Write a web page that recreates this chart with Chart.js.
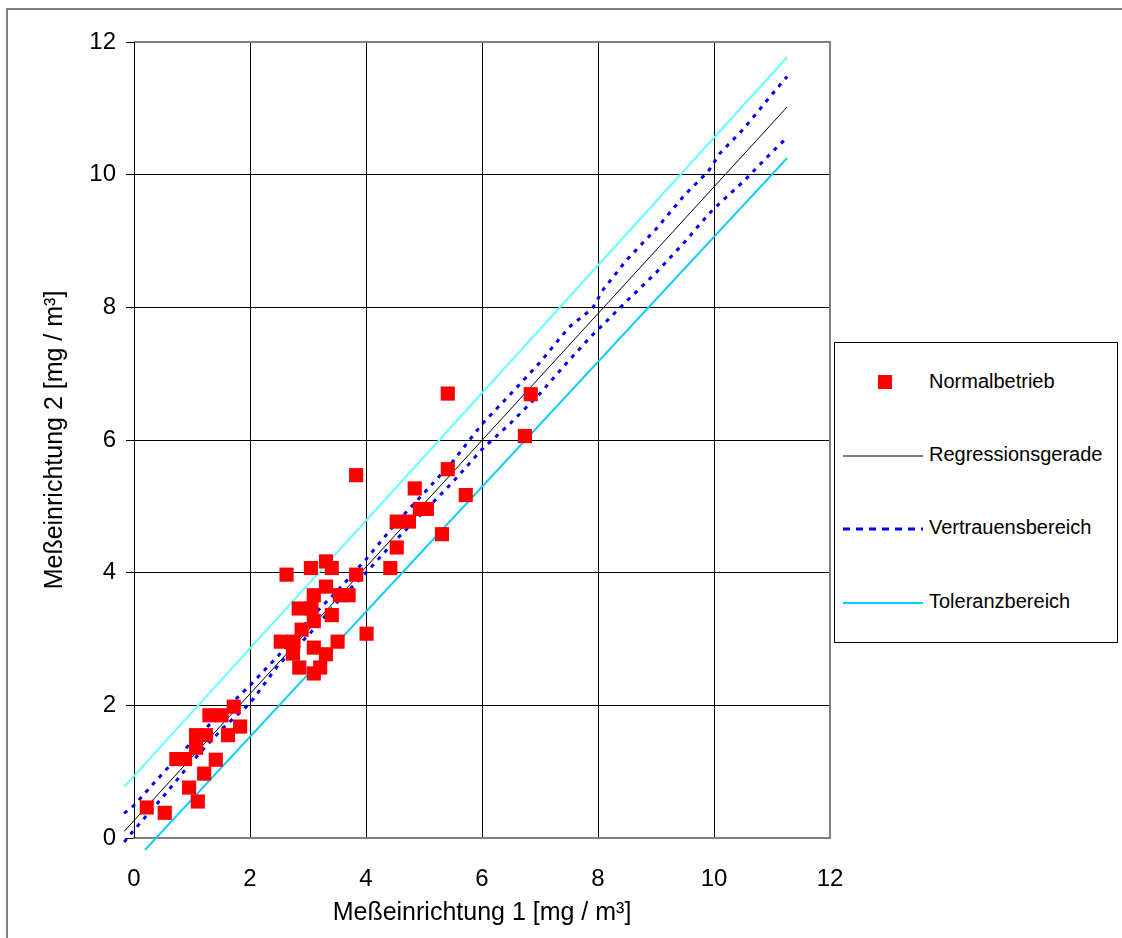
<!DOCTYPE html>
<html lang="de">
<head>
<meta charset="UTF-8">
<title>Meßeinrichtung 1 / Meßeinrichtung 2</title>
<script src="https://cdn.jsdelivr.net/npm/chart.js"></script>
<style>
    body {
        margin: 0;
        background: #fff;
        font-family: "Liberation Sans", Arial, sans-serif;
        overflow: hidden;
    }
    .frame {
        position: absolute;
        left: 6px;
        top: 8px;
        width: 1140px;
        height: 960px;
        border-left: 2px solid #808080;
        border-top: 2px solid #808080;
    }
    .chart-box {
        position: absolute;
        left: 0;
        top: 0;
        width: 1122px;
        height: 938px;
    }
    .legend {
        position: absolute;
        left: 834px;
        top: 342px;
        width: 282px;
        height: 299px;
        border: 1px solid #000;
        background: #fff;
    }
    .legend-item {
        position: absolute;
        left: 0;
        width: 100%;
        height: 30px;
    }
    .legend-item svg {
        position: absolute;
        left: 8px;
        top: 0;
    }
    .legend-text {
        position: absolute;
        left: 94px;
        top: 3px;
        font-size: 20px;
        color: #000;
        white-space: nowrap;
    }
</style>
</head>
<body>
<div class="frame"></div>
<div class="chart-box"><canvas id="vergleich"></canvas></div>
<div class="legend" id="legende"></div>

<script>
    // Messwerte Normalbetrieb (Meßeinrichtung 1 / 2)
    const messX = [0.22, 0.53, 0.73, 0.88, 0.95, 1.10, 1.21, 1.41, 1.07, 1.07, 1.24, 1.62, 1.83, 1.30, 1.51, 1.72,
                   2.63, 3.05, 3.31, 3.41, 3.83, 3.31, 3.10, 3.55, 3.70, 2.84, 3.06, 3.41, 3.10, 2.89, 2.53, 2.75,
                   3.51, 3.10, 2.74, 3.31, 2.85, 3.21, 3.10, 4.01, 3.83, 4.42, 4.53, 5.31, 4.53, 4.74, 4.93, 5.05,
                   4.84, 5.72, 5.41, 5.41, 6.84, 6.74];
    const messY = [0.46, 0.38, 1.19, 1.19, 0.76, 0.55, 0.97, 1.18, 1.36, 1.55, 1.55, 1.55, 1.68, 1.85, 1.85, 1.98,
                   3.97, 4.07, 4.17, 4.07, 3.97, 3.79, 3.66, 3.66, 3.66, 3.46, 3.46, 3.36, 3.27, 3.14, 2.96, 2.96,
                   2.96, 2.87, 2.78, 2.77, 2.57, 2.57, 2.48, 3.08, 5.47, 4.07, 4.38, 4.58, 4.77, 4.77, 4.96, 4.96,
                   5.27, 5.17, 5.56, 6.70, 6.69, 6.06];

    // Regressionsgerade
    const regX = [-0.17, 11.26];
    const regY = [0.10, 11.02];

    // Vertrauensbereich (oben / unten)
    const vbX = [-0.17, 0, 0.5, 1, 1.5, 2, 2.5, 3, 3.5, 4, 4.5, 5, 5.5, 6, 6.5, 7, 7.5, 7.9, 8.1, 8.5, 9, 9.5, 9.9, 10.1, 10.5, 11, 11.26];
    const vbOben = [0.37, 0.49, 0.98, 1.45, 1.88, 2.30, 2.76, 3.28, 3.72, 4.20, 4.73, 5.20, 5.68, 6.24, 6.70, 7.17, 7.70, 7.98, 8.28, 8.72, 9.18, 9.70, 10.05, 10.32, 10.68, 11.21, 11.48];
    const vbUnten = [-0.06, 0.12, 0.62, 1.15, 1.63, 2.03, 2.62, 3.05, 3.55, 4.00, 4.48, 4.92, 5.37, 5.86, 6.26, 6.70, 7.20, 7.58, 7.75, 8.10, 8.52, 8.99, 9.40, 9.57, 9.89, 10.34, 10.56];

    // Toleranzbereich
    const tolObenX = [-0.17, 11.26];
    const tolObenY = [0.77, 11.77];
    const tolUntenX = [0.19, 11.26];
    const tolUntenY = [-0.18, 10.25];

    const achsenTicks = [0, 2, 4, 6, 8, 10, 12];

    const punkte = (xs, ys) => xs.map((x, i) => ({ x: x, y: ys[i] }));
    const schrift = '"Liberation Sans", Arial, sans-serif';

    // grauer Rahmen um die Zeichenfläche
    const rahmen = {
        id: 'rahmen',
        beforeDatasetsDraw(chart) {
            const { ctx, chartArea: a } = chart;
            ctx.save();
            ctx.strokeStyle = '#808080';
            ctx.lineWidth = 2;
            ctx.beginPath();
            ctx.moveTo(a.left, a.top);
            ctx.lineTo(a.right, a.top);
            ctx.lineTo(a.right, a.bottom);
            ctx.lineTo(a.left, a.bottom);
            ctx.stroke();
            ctx.strokeStyle = '#000';
            ctx.lineWidth = 1;
            ctx.beginPath();
            ctx.moveTo(a.left + 0.5, a.top);
            ctx.lineTo(a.left + 0.5, a.bottom);
            ctx.stroke();
            ctx.restore();
        }
    };

    const datasets = [
        {
            label: 'Normalbetrieb',
            data: punkte(messX, messY),
            pointStyle: 'rect',
            pointRadius: 10,
            pointHoverRadius: 10,
            backgroundColor: '#ff0000',
            borderWidth: 0,
            showLine: false
        },
        {
            label: 'Regressionsgerade',
            data: punkte(regX, regY),
            showLine: true,
            borderColor: '#000',
            borderWidth: 1,
            pointRadius: 0,
            clip: false
        },
        {
            label: 'Vertrauensbereich',
            data: punkte(vbX, vbOben),
            showLine: true,
            borderColor: '#0000ff',
            borderWidth: 3,
            borderDash: [4, 6],
            pointRadius: 0,
            clip: false
        },
        {
            label: 'Vertrauensbereich unten',
            data: punkte(vbX, vbUnten),
            showLine: true,
            borderColor: '#0000ff',
            borderWidth: 3,
            borderDash: [4, 6],
            pointRadius: 0,
            clip: false,
            inLegend: false
        },
        {
            label: 'Toleranzbereich',
            data: punkte(tolUntenX, tolUntenY),
            showLine: true,
            borderColor: '#00ccff',
            borderWidth: 2,
            pointRadius: 0,
            clip: false
        },
        {
            label: 'Toleranzbereich oben',
            data: punkte(tolObenX, tolObenY),
            showLine: true,
            borderColor: '#66ffff',
            borderWidth: 2,
            pointRadius: 0,
            clip: false,
            inLegend: false
        }
    ];

    new Chart(document.getElementById('vergleich'), {
        type: 'scatter',
        data: { datasets: datasets },
        plugins: [rahmen],
        options: {
            responsive: true,
            maintainAspectRatio: false,
            animation: false,
            layout: { padding: { left: 0, top: 42, right: 292, bottom: 0 } },
            plugins: {
                legend: { display: false },
                tooltip: { enabled: false }
            },
            scales: {
                x: {
                    type: 'linear',
                    min: 0,
                    max: 12,
                    afterFit: (s) => { s.height = 100; },
                    afterBuildTicks: (s) => { s.ticks = achsenTicks.map(v => ({ value: v })); },
                    ticks: {
                        color: '#000',
                        font: { family: schrift, size: 24 },
                        padding: 27,
                        maxRotation: 0
                    },
                    grid: { color: '#000', lineWidth: 1, drawTicks: false },
                    border: { color: '#808080', width: 2 },
                    title: {
                        display: true,
                        text: 'Meßeinrichtung 1 [mg / m³]',
                        color: '#000',
                        font: { family: schrift, size: 25 },
                        padding: { top: 0, bottom: 10 }
                    }
                },
                y: {
                    type: 'linear',
                    min: 0,
                    max: 12,
                    afterFit: (s) => { s.width = 134; },
                    afterBuildTicks: (s) => { s.ticks = achsenTicks.map(v => ({ value: v })); },
                    ticks: {
                        color: '#000',
                        font: { family: schrift, size: 24 },
                        padding: 10
                    },
                    grid: { color: '#000', lineWidth: 1, tickLength: 8 },
                    border: { color: '#000', width: 1 },
                    title: {
                        display: true,
                        text: 'Meßeinrichtung 2 [mg / m³]',
                        color: '#000',
                        font: { family: schrift, size: 25 },
                        padding: { top: 40, bottom: 0 }
                    }
                }
            }
        }
    });

    // Legende rechts
    const legende = document.getElementById('legende');
    const legendeY = [24, 97, 170, 244];
    datasets.filter(d => d.inLegend !== false).forEach((d, i) => {
        const item = document.createElement('div');
        item.className = 'legend-item';
        item.style.top = legendeY[i] + 'px';
        let sym;
        if (d.pointStyle === 'rect') {
            sym = `<rect x="35" y="8" width="14" height="14" fill="${d.backgroundColor}"/>`;
        } else {
            const dash = d.borderDash ? `stroke-dasharray="7 6"` : '';
            const w = d.borderDash ? 3 : d.borderWidth;
            sym = `<line x1="0" y1="16" x2="80" y2="16" stroke="${d.borderColor}" stroke-width="${w}" ${dash}/>`;
        }
        item.innerHTML = `<svg width="82" height="30">${sym}</svg><span class="legend-text">${d.label}</span>`;
        legende.appendChild(item);
    });
</script>
</body>
</html>
